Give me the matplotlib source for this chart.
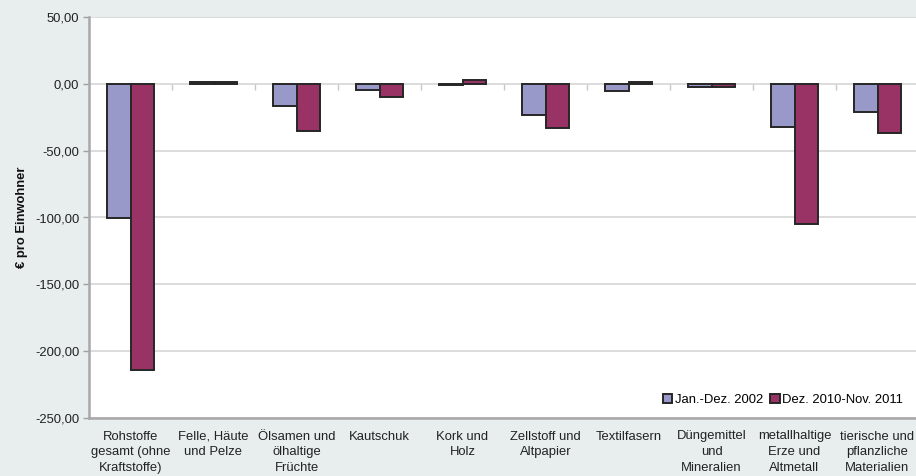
import matplotlib
matplotlib.use("Agg")
import matplotlib.pyplot as plt
import numpy as np
from matplotlib.markers import TICKDOWN

plt.rcParams['font.family'] = ['Liberation Sans', 'DejaVu Sans']

categories = [
    "Rohstoffe\ngesamt (ohne\nKraftstoffe)",
    "Felle, Häute\nund Pelze",
    "Ölsamen und\nölhaltige\nFrüchte",
    "Kautschuk",
    "Kork und\nHolz",
    "Zellstoff und\nAltpapier",
    "Textilfasern",
    "Düngemittel\nund\nMineralien",
    "metallhaltige\nErze und\nAltmetall",
    "tierische und\npflanzliche\nMaterialien",
]
series_names = ["Jan.-Dez. 2002", "Dez. 2010-Nov. 2011"]
values_2002 = [-100.3, 1.2, -16.5, -4.5, -0.5, -23.0, -5.5, -2.5, -32.0, -20.7]
values_2011 = [-214.0, 1.5, -35.0, -10.0, 2.5, -33.0, 1.5, -2.5, -105.0, -37.0]
yticks = [50, 0, -50, -100, -150, -200, -250]

bg = "#e7eeed"
col_a = "#9898c9"
col_b = "#993366"
edge = "#262626"
fs = 9.4

fig = plt.figure(figsize=(9.16, 4.76), dpi=100, facecolor=bg)
ax = fig.add_axes([89 / 916, 1 - 418 / 476, 830 / 916, (418 - 17) / 476])
ax.set_facecolor("white")

x = np.arange(len(categories))
w = 0.285
ax.bar(x - w / 2, values_2002, w, color=col_a, edgecolor=edge, linewidth=1.4,
       label=series_names[0], zorder=3)
ax.bar(x + w / 2, values_2011, w, color=col_b, edgecolor=edge, linewidth=1.4,
       label=series_names[1], zorder=3)

ax.set_xlim(-0.5, len(categories) - 0.5)
ax.set_ylim(-250, 50)
ax.set_yticks(yticks)
ax.set_yticklabels([f"{v:.2f}".replace(".", ",") for v in yticks], fontsize=fs,
                   color="#222222")
ax.yaxis.grid(True, color="#d6d6d6", linewidth=1.2, zorder=0)
ax.tick_params(axis="y", length=4, color="#a0a0a0", width=1, pad=3)

ax.set_xticks(x)
ax.set_xticklabels(categories, fontsize=fs, color="#222222", linespacing=1.4,
                   va="top")
ax.tick_params(axis="x", length=0, pad=9)

# category separators on the zero line
ax.plot(x[:-1] + 0.5, np.zeros(len(x) - 1), linestyle="none", marker=TICKDOWN,
        markersize=4, color="#c8c8c8", markeredgewidth=1, zorder=2)

for s in ["top", "right"]:
    ax.spines[s].set_visible(False)
for s in ["left", "bottom"]:
    ax.spines[s].set_color("#a8a8a8")
    ax.spines[s].set_linewidth(1.8)

ax.set_ylabel("€ pro Einwohner", fontsize=fs, fontweight="bold", color="#111111",
              labelpad=5)

leg = ax.legend(loc="lower right", bbox_to_anchor=(0.995, 0.0), frameon=False,
                ncol=2, fontsize=fs, handlelength=0.75, handleheight=0.75,
                handletextpad=0.2, columnspacing=0.5)

fig.savefig("out.png", dpi=100, facecolor=bg)
